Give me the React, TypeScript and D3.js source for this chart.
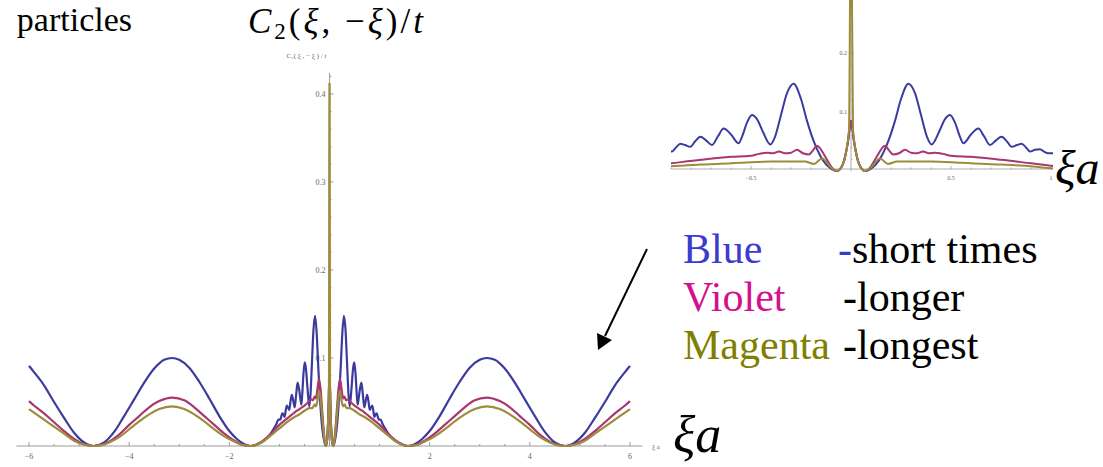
import * as d3 from 'd3';

type Pt = [number, number];

// main plot, short times (also shown in the inset)
const BLUE: Pt[] = [
  [-6.0, 0.091], [-5.9, 0.084], [-5.7, 0.069], [-5.5, 0.05], [-5.3, 0.032], [-5.1, 0.015], [-4.9, 0.004],
  [-4.71, 0], [-4.5, 0.004], [-4.3, 0.016], [-4.1, 0.034], [-3.9, 0.053], [-3.7, 0.072], [-3.5, 0.088],
  [-3.3, 0.098], [-3.14, 0.1], [-3.0, 0.098], [-2.8, 0.089], [-2.6, 0.073], [-2.4, 0.054], [-2.2, 0.034],
  [-2.0, 0.017], [-1.85, 0.008], [-1.7, 0.002], [-1.57, 0], [-1.5, 0.0007], [-1.4, 0.003], [-1.3, 0.007],
  [-1.2, 0.012], [-1.1, 0.021], [-1.06, 0.025], [-1.02, 0.03], [-0.985, 0.03], [-0.965, 0.033],
  [-0.945, 0.037], [-0.92, 0.036], [-0.895, 0.033], [-0.875, 0.04], [-0.853, 0.046], [-0.83, 0.044],
  [-0.803, 0.041], [-0.78, 0.05], [-0.753, 0.058], [-0.725, 0.052], [-0.695, 0.044], [-0.665, 0.059],
  [-0.637, 0.072], [-0.6, 0.062], [-0.562, 0.047], [-0.545, 0.058], [-0.52, 0.082], [-0.495, 0.095],
  [-0.47, 0.088], [-0.44, 0.066], [-0.403, 0.045], [-0.38, 0.058], [-0.35, 0.095], [-0.32, 0.132],
  [-0.287, 0.148], [-0.25, 0.122], [-0.22, 0.085], [-0.18, 0.045], [-0.14, 0.018], [-0.1, 0.004],
  [-0.07, 0], [-0.04, 0.012], [-0.015, 0.05], [0, 0.085],
  [0.015, 0.05], [0.04, 0.012], [0.07, 0], [0.1, 0.004], [0.14, 0.018], [0.18, 0.045], [0.22, 0.085],
  [0.25, 0.122], [0.287, 0.148], [0.32, 0.132], [0.35, 0.095], [0.38, 0.058], [0.403, 0.045],
  [0.44, 0.066], [0.47, 0.088], [0.495, 0.095], [0.52, 0.082], [0.545, 0.058], [0.562, 0.047],
  [0.6, 0.062], [0.637, 0.072], [0.665, 0.059], [0.695, 0.044], [0.725, 0.052], [0.753, 0.058],
  [0.78, 0.05], [0.803, 0.041], [0.83, 0.044], [0.853, 0.046], [0.875, 0.04], [0.895, 0.033],
  [0.92, 0.036], [0.945, 0.037], [0.965, 0.033], [0.985, 0.03], [1.02, 0.03], [1.06, 0.025],
  [1.1, 0.021], [1.2, 0.012], [1.3, 0.007], [1.4, 0.003], [1.5, 0.0007], [1.57, 0], [1.7, 0.002],
  [1.85, 0.008], [2.0, 0.017], [2.2, 0.034], [2.4, 0.054], [2.6, 0.073], [2.8, 0.089], [3.0, 0.098],
  [3.14, 0.1], [3.3, 0.098], [3.5, 0.088], [3.7, 0.072], [3.9, 0.053], [4.1, 0.034], [4.3, 0.016],
  [4.5, 0.004], [4.71, 0], [4.9, 0.004], [5.1, 0.015], [5.3, 0.032], [5.5, 0.05], [5.7, 0.069],
  [5.9, 0.084], [6.0, 0.091],
];

const VIOLET: Pt[] = [
  [-6.0, 0.051], [-5.9, 0.046], [-5.7, 0.037], [-5.5, 0.027], [-5.3, 0.017], [-5.1, 0.008], [-4.9, 0.002],
  [-4.71, 0], [-4.55, 0.0015], [-4.4, 0.005], [-4.2, 0.013], [-4.0, 0.024], [-3.8, 0.034], [-3.6, 0.044],
  [-3.4, 0.051], [-3.14, 0.055], [-2.9, 0.052], [-2.7, 0.044], [-2.5, 0.034], [-2.3, 0.024], [-2.1, 0.014],
  [-1.9, 0.006], [-1.75, 0.0015], [-1.57, 0], [-1.45, 0.002], [-1.3, 0.007], [-1.15, 0.015], [-1.0, 0.024],
  [-0.85, 0.031], [-0.7, 0.038], [-0.6, 0.042], [-0.5, 0.046], [-0.42, 0.05], [-0.37, 0.053],
  [-0.33, 0.052], [-0.3, 0.056], [-0.27, 0.054], [-0.24, 0.065], [-0.21, 0.076], [-0.18, 0.065],
  [-0.14, 0.035], [-0.1, 0.008], [-0.07, 0], [-0.04, 0.012], [-0.015, 0.05], [0, 0.085],
  [0.015, 0.05], [0.04, 0.012], [0.07, 0], [0.1, 0.008], [0.14, 0.035], [0.18, 0.065], [0.21, 0.076],
  [0.24, 0.065], [0.27, 0.054], [0.3, 0.056], [0.33, 0.052], [0.37, 0.053], [0.42, 0.05], [0.5, 0.046],
  [0.6, 0.042], [0.7, 0.038], [0.85, 0.031], [1.0, 0.024], [1.15, 0.015], [1.3, 0.007], [1.45, 0.002],
  [1.57, 0], [1.75, 0.0015], [1.9, 0.006], [2.1, 0.014], [2.3, 0.024], [2.5, 0.034], [2.7, 0.044],
  [2.9, 0.052], [3.14, 0.055], [3.4, 0.051], [3.6, 0.044], [3.8, 0.034], [4.0, 0.024], [4.2, 0.013],
  [4.4, 0.005], [4.55, 0.0015], [4.71, 0], [4.9, 0.002], [5.1, 0.008], [5.3, 0.017], [5.5, 0.027],
  [5.7, 0.037], [5.9, 0.046], [6.0, 0.051],
];

const OLIVE: Pt[] = [
  [-6.0, 0.042], [-5.9, 0.038], [-5.7, 0.03], [-5.5, 0.022], [-5.3, 0.014], [-5.1, 0.006], [-4.9, 0.0015],
  [-4.71, 0], [-4.55, 0.001], [-4.4, 0.004], [-4.2, 0.01], [-4.0, 0.019], [-3.8, 0.028], [-3.6, 0.036],
  [-3.4, 0.042], [-3.14, 0.045], [-2.9, 0.042], [-2.7, 0.036], [-2.5, 0.028], [-2.3, 0.019], [-2.1, 0.011],
  [-1.9, 0.005], [-1.75, 0.0012], [-1.57, 0], [-1.45, 0.0015], [-1.3, 0.006], [-1.15, 0.013], [-1.0, 0.02],
  [-0.85, 0.027], [-0.7, 0.033], [-0.6, 0.036], [-0.5, 0.04], [-0.4, 0.043], [-0.34, 0.043],
  [-0.3, 0.047], [-0.27, 0.045], [-0.24, 0.052], [-0.21, 0.063], [-0.18, 0.055], [-0.14, 0.03],
  [-0.1, 0.007], [-0.07, 0], [-0.04, 0.012], [-0.01, 0.07], [0, 0.5],
  [0.01, 0.07], [0.04, 0.012], [0.07, 0], [0.1, 0.007], [0.14, 0.03], [0.18, 0.055], [0.21, 0.063],
  [0.24, 0.052], [0.27, 0.045], [0.3, 0.047], [0.34, 0.043], [0.4, 0.043], [0.5, 0.04], [0.6, 0.036],
  [0.7, 0.033], [0.85, 0.027], [1.0, 0.02], [1.15, 0.013], [1.3, 0.006], [1.45, 0.0015], [1.57, 0],
  [1.75, 0.0012], [1.9, 0.005], [2.1, 0.011], [2.3, 0.019], [2.5, 0.028], [2.7, 0.036], [2.9, 0.042],
  [3.14, 0.045], [3.4, 0.042], [3.6, 0.036], [3.8, 0.028], [4.0, 0.019], [4.2, 0.01], [4.4, 0.004],
  [4.55, 0.001], [4.71, 0], [4.9, 0.0015], [5.1, 0.006], [5.3, 0.014], [5.5, 0.022], [5.7, 0.03],
  [5.9, 0.038], [6.0, 0.042],
];

// inset (zoom near ξa = 0)
const INSET_VIOLET: Pt[] = [
  [-0.95, 0.011], [-0.9, 0.013], [-0.75, 0.019], [-0.6, 0.024], [-0.5, 0.026], [-0.46, 0.029],
  [-0.42, 0.031], [-0.39, 0.03], [-0.36, 0.033], [-0.33, 0.03], [-0.3, 0.031], [-0.27, 0.036],
  [-0.24, 0.03], [-0.21, 0.028], [-0.19, 0.035], [-0.17, 0.043], [-0.13, 0.025], [-0.1, 0.008],
  [-0.07, 0], [-0.04, 0.012], [-0.015, 0.05], [0, 0.085],
  [0.015, 0.05], [0.04, 0.012], [0.07, 0], [0.1, 0.008], [0.13, 0.025], [0.17, 0.043], [0.19, 0.035],
  [0.21, 0.028], [0.24, 0.03], [0.27, 0.036], [0.3, 0.031], [0.33, 0.03], [0.36, 0.033], [0.39, 0.03],
  [0.42, 0.031], [0.46, 0.029], [0.5, 0.026], [0.6, 0.024], [0.75, 0.019], [0.9, 0.013], [1.0, 0.009],
  [1.05, 0.007],
];

const INSET_OLIVE: Pt[] = [
  [-0.95, 0.007], [-0.9, 0.008], [-0.75, 0.011], [-0.6, 0.013], [-0.5, 0.015], [-0.4, 0.016],
  [-0.3, 0.016], [-0.23, 0.016], [-0.185, 0.012], [-0.145, 0.021], [-0.1, 0.006], [-0.07, 0],
  [-0.04, 0.012], [-0.01, 0.07], [0, 0.5],
  [0.01, 0.07], [0.04, 0.012], [0.07, 0], [0.1, 0.006], [0.145, 0.021], [0.185, 0.012], [0.23, 0.016],
  [0.3, 0.016], [0.4, 0.016], [0.5, 0.015], [0.6, 0.013], [0.75, 0.011], [0.9, 0.008], [1.0, 0.0045],
  [1.05, 0.003],
];

const MAIN_X_LABELS = [-6, -4, -2, 2, 4, 6];
const MAIN_Y_LABELS = [0.1, 0.2, 0.3, 0.4];
const INSET_X_LABELS = [-0.5, 0.5, 1];
const INSET_Y_LABELS = [0.1, 0.2];

const LEGEND_NAMES = ['Blue', 'Violet', 'Magenta'];
const LEGEND_TEXT = ['-short times', '-longer', '-longest'];
const LEGEND_COLORS = ['#3b3bcc', '#d3118e', '#808000'];
const CURVE_COLORS = ['#3b3b9e', '#a8366f', '#9c8c3c'];

const SERIF = "'Liberation Serif', 'Times New Roman', serif";
const AXIS = '#9a9a9a';
const TICK_TEXT = '#666';

const fmt = (v: number) => String(v).replace('-', '\u2212');

export default function App() {
  const W = 1103;
  const H = 467;

  const mainX = d3.scaleLinear().domain([-6, 6]).range([29, 630]);
  const mainY = d3.scaleLinear().domain([0, 0.4]).range([446, 94]);
  const insetX = d3.scaleLinear().domain([0, 1]).range([851, 1051]);
  const insetY = d3.scaleLinear().domain([0, 0.1]).range([171, 112]);

  const mainLine = d3.line<Pt>().x((d) => mainX(d[0])).y((d) => mainY(d[1])).curve(d3.curveMonotoneX);
  const insetLine = d3.line<Pt>().x((d) => insetX(d[0])).y((d) => insetY(d[1])).curve(d3.curveMonotoneX);

  const mainSeries = [BLUE, VIOLET, OLIVE];
  const insetSeries = [BLUE.filter((d) => d[0] >= -1 && d[0] <= 1.1), INSET_VIOLET, INSET_OLIVE];

  const x0 = mainX(0);
  const y0 = mainY(0);
  const mainXTicks = mainX.ticks(24).filter((t) => t !== 0);
  const mainYTicks = d3.range(1, 22).map((i) => i * 0.02);

  const ix0 = insetX(0);
  const iy0 = insetY(0);
  const insetXTicks = d3.range(-9, 11).map((i) => i / 10).filter((t) => t !== 0);
  const insetYTicks = d3.range(1, 15).map((i) => i * 0.02);

  return (
    <svg
      width={W}
      height={H}
      viewBox={`0 0 ${W} ${H}`}
      style={{ position: 'absolute', left: 0, top: 0, background: '#fff' }}
    >
      <defs>
        <clipPath id="clip-main">
          <rect x={10} y={83} width={640} height={370} />
        </clipPath>
        <clipPath id="clip-inset">
          <rect x={insetX(-0.9)} y={0} width={insetX(1.01) - insetX(-0.9)} height={180} />
        </clipPath>
      </defs>

      {/* slide text */}
      <text x={132} y={31} textAnchor="end" fontFamily={SERIF} fontSize={34} fill="#000">
        particles
      </text>
      <text x={248} y={33} fontFamily={SERIF} fontSize={35} fill="#000" letterSpacing={3}>
        <tspan fontStyle="italic">C</tspan>
        <tspan fontSize={23} dy={6}>2</tspan>
        <tspan dy={-6}>(</tspan>
        <tspan fontStyle="italic">ξ</tspan>
        <tspan>, −</tspan>
        <tspan fontStyle="italic">ξ</tspan>
        <tspan>)/</tspan>
        <tspan fontStyle="italic">t</tspan>
      </text>

      {/* main axes */}
      <g>
        <line x1={mainX(-6.25)} x2={mainX(6.25)} y1={y0} y2={y0} stroke={AXIS} strokeWidth={1} />
        {mainXTicks.map((t) => {
          const major = t % 2 === 0;
          return (
            <line key={t} x1={mainX(t)} x2={mainX(t)} y1={y0} y2={y0 - (major ? 4 : 2)} stroke={AXIS} strokeWidth={1} />
          );
        })}
        {MAIN_X_LABELS.map((t) => (
          <text key={t} x={mainX(t)} y={y0 + 13} textAnchor="middle" fontFamily={SERIF} fontSize={8} fill={TICK_TEXT}>
            {fmt(t)}
          </text>
        ))}
        <line x1={x0} x2={x0} y1={y0} y2={73} stroke={AXIS} strokeWidth={1} />
        {mainYTicks.map((t, i) => {
          const major = (i + 1) % 5 === 0;
          return (
            <line key={i} x1={x0} x2={x0 + (major ? 4 : 2)} y1={mainY(t)} y2={mainY(t)} stroke={AXIS} strokeWidth={1} />
          );
        })}
        {MAIN_Y_LABELS.map((t) => (
          <text key={t} x={x0 - 4} y={mainY(t) + 3} textAnchor="end" fontFamily={SERIF} fontSize={8} fill={TICK_TEXT}>
            {t}
          </text>
        ))}
        <text x={x0 - 23} y={58} textAnchor="middle" fontFamily={SERIF} fontSize={7} fill={TICK_TEXT}>
          C₂( ξ , − ξ ) / t
        </text>
        <text x={652} y={449} fontFamily={SERIF} fontSize={7} fill={TICK_TEXT}>
          ξ a
        </text>
      </g>

      <g clipPath="url(#clip-main)" fill="none">
        {mainSeries.map((s, i) => (
          <path key={i} d={mainLine(s) ?? ''} stroke={CURVE_COLORS[i]} strokeWidth={2.2} strokeLinejoin="round" />
        ))}
      </g>

      {/* inset axes */}
      <g>
        <line x1={insetX(-0.9)} x2={insetX(1.01)} y1={iy0 - 2} y2={iy0 - 2} stroke={AXIS} strokeWidth={0.8} />
        {insetXTicks.map((t) => {
          const major = Math.abs(t * 2 - Math.round(t * 2)) < 1e-9;
          return (
            <line key={t} x1={insetX(t)} x2={insetX(t)} y1={iy0 - 2} y2={iy0 - 2 - (major ? 3 : 1.5)} stroke={AXIS} strokeWidth={0.8} />
          );
        })}
        {INSET_X_LABELS.map((t) => (
          <text key={t} x={insetX(t)} y={iy0 + 9} textAnchor="middle" fontFamily={SERIF} fontSize={6} fill={TICK_TEXT}>
            {fmt(t)}
          </text>
        ))}
        <line x1={ix0} x2={ix0} y1={iy0} y2={0} stroke={AXIS} strokeWidth={0.8} />
        {insetYTicks.map((t, i) => {
          const major = (i + 1) % 5 === 0;
          return (
            <line key={i} x1={ix0} x2={ix0 + (major ? 3 : 1.5)} y1={insetY(t)} y2={insetY(t)} stroke={AXIS} strokeWidth={0.8} />
          );
        })}
        {INSET_Y_LABELS.map((t) => (
          <text key={t} x={ix0 - 4} y={insetY(t) + 2} textAnchor="end" fontFamily={SERIF} fontSize={6} fill={TICK_TEXT}>
            {t}
          </text>
        ))}
      </g>

      <g clipPath="url(#clip-inset)" fill="none">
        {insetSeries.map((s, i) => (
          <path key={i} d={insetLine(s) ?? ''} stroke={CURVE_COLORS[i]} strokeWidth={2} strokeLinejoin="round" />
        ))}
      </g>

      {/* big axis names */}
      <text x={673} y={452} fontFamily={SERIF} fontSize={52} fontStyle="italic" fill="#000">
        ξa
      </text>
      <text x={1055} y={184} fontFamily={SERIF} fontSize={48} fontStyle="italic" fill="#000">
        ξa
      </text>

      {/* arrow */}
      <line x1={647} y1={249} x2={605} y2={336} stroke="#000" strokeWidth={2} />
      <polygon points="598,350 597,333 612,340" fill="#000" />

      {/* legend */}
      {LEGEND_NAMES.map((name, i) => (
        <g key={name}>
          <text x={683} y={263 + i * 48} fontFamily={SERIF} fontSize={42} fill={LEGEND_COLORS[i]}>
            {name}
          </text>
          <text x={i === 0 ? 838 : 843} y={263 + i * 48} fontFamily={SERIF} fontSize={42} fill="#000">
            {i === 0 ? (
              <>
                <tspan fill={LEGEND_COLORS[0]}>-</tspan>
                {LEGEND_TEXT[i].slice(1)}
              </>
            ) : (
              LEGEND_TEXT[i]
            )}
          </text>
        </g>
      ))}
    </svg>
  );
}
